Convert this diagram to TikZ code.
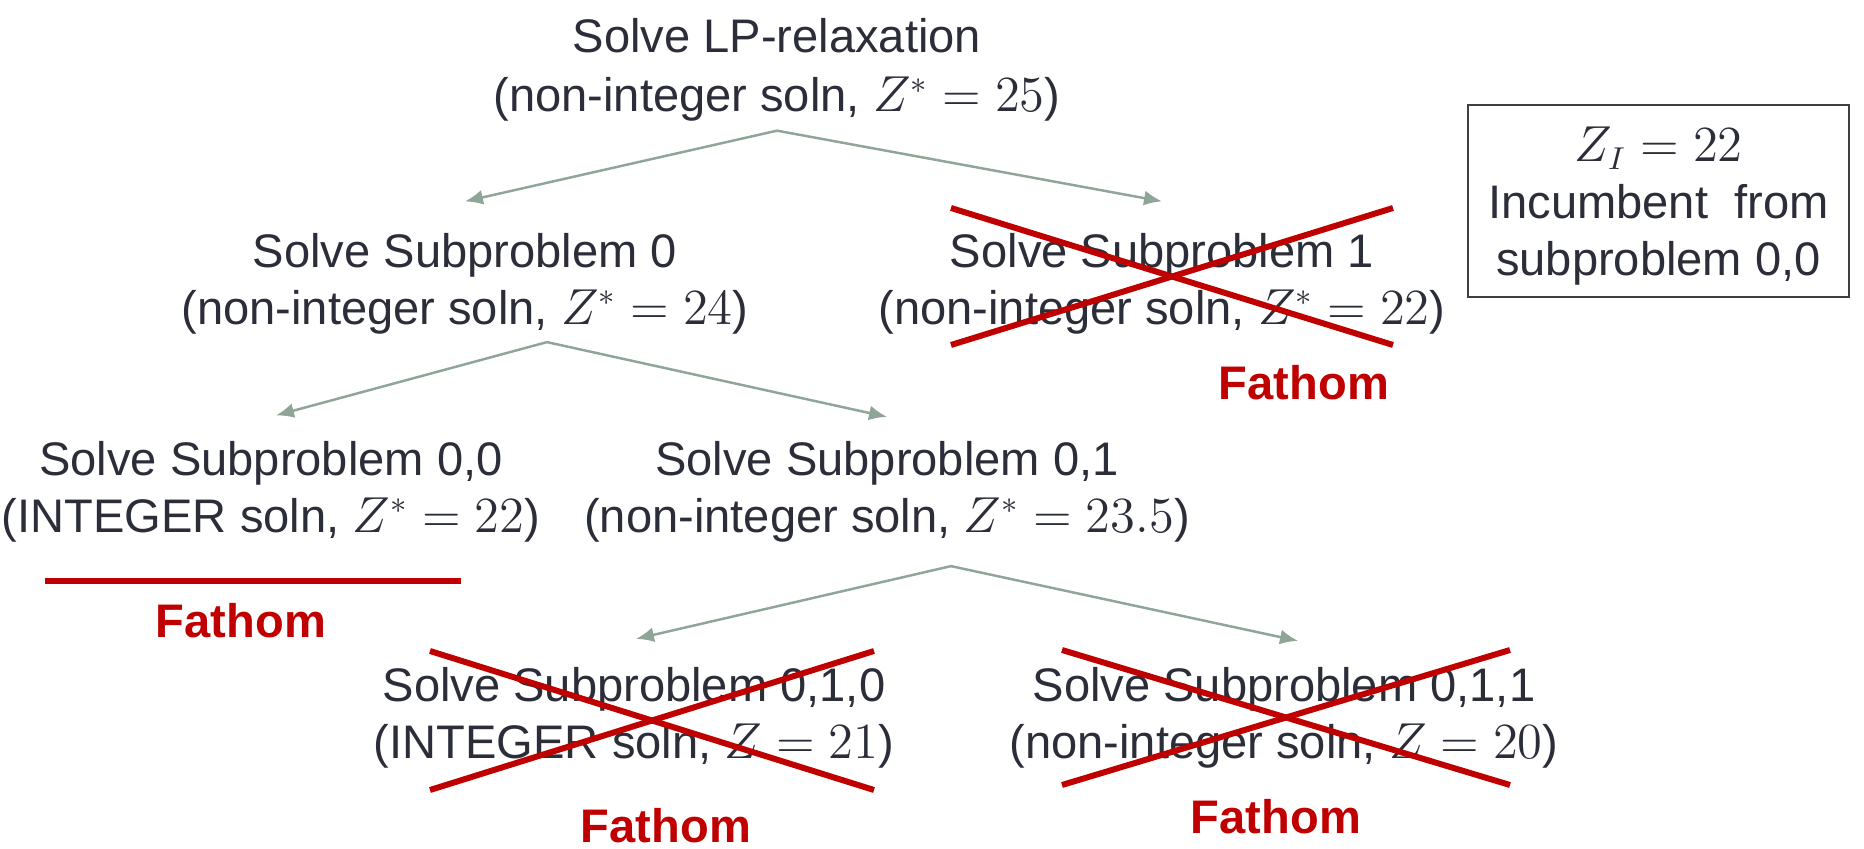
\documentclass[tikz,border=0pt]{standalone}
\usepackage[no-math]{fontspec}
\setmainfont{Liberation Sans}
\usetikzlibrary{arrows.meta}
\definecolor{txtgray}{HTML}{2B2D38}
\definecolor{arrgreen}{HTML}{8FA598}
\definecolor{fathomred}{HTML}{C00000}
\definecolor{boxgray}{HTML}{404040}

\begin{document}
\begin{tikzpicture}[
        every node/.style={align=center,inner sep=0pt,text=txtgray,font=\fontsize{13.4}{16.2}\selectfont},
        branch/.style={draw=arrgreen,line width=0.7pt,-{Latex[length=1.8mm,width=1.5mm]}},
        cross/.style={draw=fathomred,line width=1.7pt},
        fathom/.style={text=fathomred,font=\fontsize{13.4}{16.2}\selectfont\bfseries}
    ]
        \useasboundingbox (0,0) rectangle (18.64,-8.49);

        \node (root) at (7.77,-0.70) {Solve LP-relaxation\\[0.6pt](non-integer soln, $Z^*=25$)};
        \node (sub0) at (4.65,-2.835) {Solve Subproblem 0\\(non-integer soln, $Z^*=24$)};
        \node (sub1) at (11.62,-2.835) {Solve Subproblem 1\\(non-integer soln, $Z^*=22$)};
        \node (sub00) at (2.71,-4.915) {Solve Subproblem 0,0\\(INTEGER soln, $Z^*=22$)};
        \node (sub01) at (8.87,-4.915) {Solve Subproblem 0,1\\(non-integer soln, $Z^*=23.5$)};
        \node (sub010) at (6.34,-7.175) {Solve Subproblem 0,1,0\\(INTEGER soln, $Z=21$)};
        \node (sub011) at (12.84,-7.175) {Solve Subproblem 0,1,1\\(non-integer soln, $Z=20$)};

        \node[draw=boxgray,line width=0.8pt,minimum width=3.81cm,minimum height=1.92cm] (incumb) at (16.585,-2.01) {\rule{0pt}{12.8pt}$Z_I=22$\\Incumbent\ \ from\\subproblem 0,0};

        \draw[branch] ([yshift=-0.85mm]root.south) -- ([yshift=3.1mm]sub0.north);
        \draw[branch] ([yshift=-0.85mm]root.south) -- ([yshift=3.1mm]sub1.north);
        \draw[branch] ([xshift=8.2mm,yshift=-0.75mm]sub0.south) -- ([xshift=0.5mm,yshift=2.5mm]sub00.north);
        \draw[branch] ([xshift=8.2mm,yshift=-0.75mm]sub0.south) -- ([yshift=2.35mm]sub01.north);
        \draw[branch] ([xshift=6.4mm,yshift=-2.35mm]sub01.south) -- ([xshift=0.2mm,yshift=2.75mm]sub010.north);
        \draw[branch] ([xshift=6.4mm,yshift=-2.35mm]sub01.south) -- ([xshift=1.4mm,yshift=2.55mm]sub011.north);

        \draw[cross] ([shift={(-2.11,0.755)}]sub1.center) -- ([shift={(2.31,-0.615)}]sub1.center);
        \draw[cross] ([shift={(-2.11,-0.615)}]sub1.center) -- ([shift={(2.31,0.755)}]sub1.center);
        \draw[cross] ([shift={(-2.26,-0.895)}]sub00.center) -- ([shift={(1.90,-0.895)}]sub00.center);
        \draw[cross] ([shift={(-2.04,0.665)}]sub010.center) -- ([shift={(2.40,-0.725)}]sub010.center);
        \draw[cross] ([shift={(-2.04,-0.725)}]sub010.center) -- ([shift={(2.40,0.665)}]sub010.center);
        \draw[cross] ([shift={(-2.22,0.675)}]sub011.center) -- ([shift={(2.26,-0.675)}]sub011.center);
        \draw[cross] ([shift={(-2.22,-0.675)}]sub011.center) -- ([shift={(2.26,0.675)}]sub011.center);

        \node[fathom] (fat1) at (13.04,-3.83) {Fathom};
        \node[fathom] (fat00) at (2.41,-6.21) {Fathom};
        \node[fathom] (fat010) at (6.66,-8.26) {Fathom};
        \node[fathom] (fat011) at (12.76,-8.17) {Fathom};
    \end{tikzpicture}
\end{document}
